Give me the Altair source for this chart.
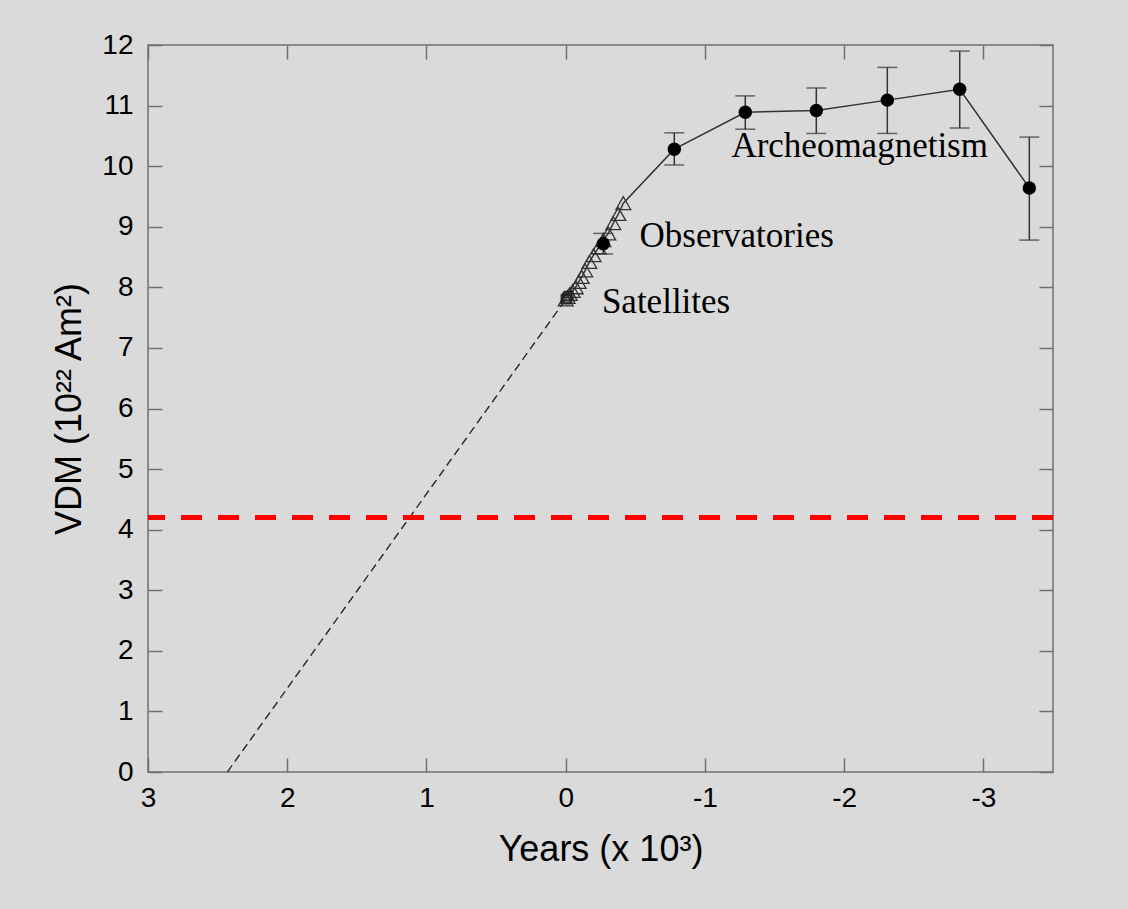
import altair as alt
import pandas as pd

# ---- data ----
arch_x = [-0.27, -0.78, -1.29, -1.80, -2.31, -2.83, -3.33]
arch_y = [8.72, 10.28, 10.89, 10.92, 11.09, 11.27, 9.64]
arch_lo = [8.55, 10.02, 10.61, 10.54, 10.54, 10.63, 8.78]
arch_hi = [8.89, 10.55, 11.16, 11.29, 11.63, 11.90, 10.48]

obs_x = [0.0, -0.014, -0.029, -0.05, -0.072, -0.093, -0.115, -0.14, -0.17,
         -0.20, -0.237, -0.27, -0.306, -0.342, -0.378, -0.414]
obs_y = [7.80, 7.84, 7.89, 7.94, 8.00, 8.09, 8.17, 8.28, 8.42,
         8.53, 8.66, 8.78, 8.89, 9.06, 9.21, 9.39]

sat_x = [0.0, -0.01, -0.02]
sat_y = [7.80, 7.83, 7.86]

ext_x = [0.0, 2.43]
ext_y = [7.80, 0.0]

red_level = [4.2]

label_text = ["Archeomagnetism", "Observatories", "Satellites"]
label_x = [-1.19, -0.53, -0.26]
label_y = [10.15, 8.66, 7.57]

x_ticks = [3, 2, 1, 0, -1, -2, -3]
y_ticks = list(range(0, 13))

# ---- tables ----
arch = pd.DataFrame({"x": arch_x, "y": arch_y, "lo": arch_lo, "hi": arch_hi})
obs = pd.DataFrame({"x": obs_x, "y": obs_y})
sat = pd.DataFrame({"x": sat_x, "y": sat_y})
ext = pd.DataFrame({"x": ext_x, "y": ext_y})
trend = pd.concat([obs, arch.loc[arch.x < min(obs_x), ["x", "y"]]], ignore_index=True)
trend["order"] = range(len(trend))
labels = pd.DataFrame({"t": label_text, "x": label_x, "y": label_y})
red = pd.DataFrame({"y": red_level})

AX = "#707070"
SANS = "Liberation Sans"
xscale = alt.Scale(domain=[-3.5, 3], reverse=True, nice=False, zero=False)
yscale = alt.Scale(domain=[0, 12], nice=False, zero=False)

x_main = alt.Axis(orient="bottom", values=x_ticks, offset=-14, tickSize=14, domain=False,
                  grid=False, labelPadding=12, labelFlush=False, labelFontSize=28,
                  labelExpr="datum.value + ''",
                  labelFont=SANS, labelColor="black", tickColor=AX, tickWidth=1.5,
                  title="Years (x 10³)", titleFont=SANS, titleFontSize=36,
                  titleFontWeight="normal", titleColor="black", titlePadding=20)
y_main = alt.Axis(orient="left", values=y_ticks, offset=-14, tickSize=14, domain=False,
                  grid=False, labelPadding=15, labelFontSize=28, labelFont=SANS,
                  labelExpr="datum.value + ''",
                  labelColor="black", tickColor=AX, tickWidth=1.5,
                  title="VDM (10²² Am²)", titleFont=SANS, titleFontSize=36,
                  titleFontWeight="normal", titleColor="black", titlePadding=13)
x_top = alt.Axis(orient="top", values=x_ticks, offset=-14, tickSize=14, domain=False,
                 grid=False, labels=False, tickColor=AX, tickWidth=1.5, title=None)
y_right = alt.Axis(orient="right", values=y_ticks, offset=-14, tickSize=14, domain=False,
                   grid=False, labels=False, tickColor=AX, tickWidth=1.5, title=None)

# axes layer (main) carrying the dashed extrapolation
axes_main = alt.Chart(ext).mark_line(strokeDash=[8, 5], strokeWidth=1.2, color="#333333").encode(
    x=alt.X("x:Q", scale=xscale, axis=x_main),
    y=alt.Y("y:Q", scale=yscale, axis=y_main),
)
# mirror axes layer (top/right ticks)
axes_mirror = alt.Chart(ext).mark_line(strokeDash=[8, 5], strokeWidth=1.2, color="#333333").encode(
    x=alt.X("x:Q", scale=xscale, axis=x_top),
    y=alt.Y("y:Q", scale=yscale, axis=y_right),
)

redline = alt.Chart(red).mark_rule(color="#ff0000", strokeWidth=5, strokeDash=[21, 16]).encode(
    y=alt.Y("y:Q", scale=yscale, axis=None)
)

trend_line = alt.Chart(trend).mark_line(color="#333333", strokeWidth=1.5).encode(
    x=alt.X("x:Q", scale=xscale, axis=None),
    y=alt.Y("y:Q", scale=yscale, axis=None),
    order="order:Q",
)

err_rule = alt.Chart(arch).mark_rule(color="#333333", strokeWidth=1.5).encode(
    x=alt.X("x:Q", scale=xscale, axis=None),
    y=alt.Y("lo:Q", scale=yscale, axis=None),
    y2="hi:Q",
)
cap_lo = alt.Chart(arch).mark_tick(color="#333333", thickness=1.5, size=20, orient="horizontal").encode(
    x=alt.X("x:Q", scale=xscale, axis=None),
    y=alt.Y("lo:Q", scale=yscale, axis=None),
)
cap_hi = alt.Chart(arch).mark_tick(color="#333333", thickness=1.5, size=20, orient="horizontal").encode(
    x=alt.X("x:Q", scale=xscale, axis=None),
    y=alt.Y("hi:Q", scale=yscale, axis=None),
)

obs_pts = alt.Chart(obs).mark_point(shape="triangle-up", size=220, filled=False,
                                   color="#333333", strokeWidth=1.3, opacity=1).encode(
    x=alt.X("x:Q", scale=xscale, axis=None),
    y=alt.Y("y:Q", scale=yscale, axis=None),
)
sat_pts = alt.Chart(sat).mark_point(shape="square", size=80, filled=False,
                                   color="#222222", strokeWidth=1.3, opacity=1).encode(
    x=alt.X("x:Q", scale=xscale, axis=None),
    y=alt.Y("y:Q", scale=yscale, axis=None),
)
arch_pts = alt.Chart(arch).mark_point(shape="circle", size=180, filled=True,
                                     color="black", opacity=1).encode(
    x=alt.X("x:Q", scale=xscale, axis=None),
    y=alt.Y("y:Q", scale=yscale, axis=None),
)

texts = alt.Chart(labels).mark_text(font="Liberation Serif", fontSize=35, align="left",
                                    baseline="alphabetic", color="black").encode(
    x=alt.X("x:Q", scale=xscale, axis=None),
    y=alt.Y("y:Q", scale=yscale, axis=None),
    text="t:N",
)

chart = alt.layer(
    axes_main, axes_mirror, redline, trend_line, err_rule, cap_lo, cap_hi,
    obs_pts, sat_pts, arch_pts, texts,
).resolve_axis(x="independent", y="independent").properties(
    width=905, height=727,
    autosize=alt.AutoSizeParams(type="none"),
    padding={"left": 148, "top": 45, "right": 75, "bottom": 137},
    background="#dadada",
).configure_view(stroke=AX, strokeWidth=1.5, fill="#dadada")

chart.save("out.html", embed_options={"renderer": "svg", "actions": False})
